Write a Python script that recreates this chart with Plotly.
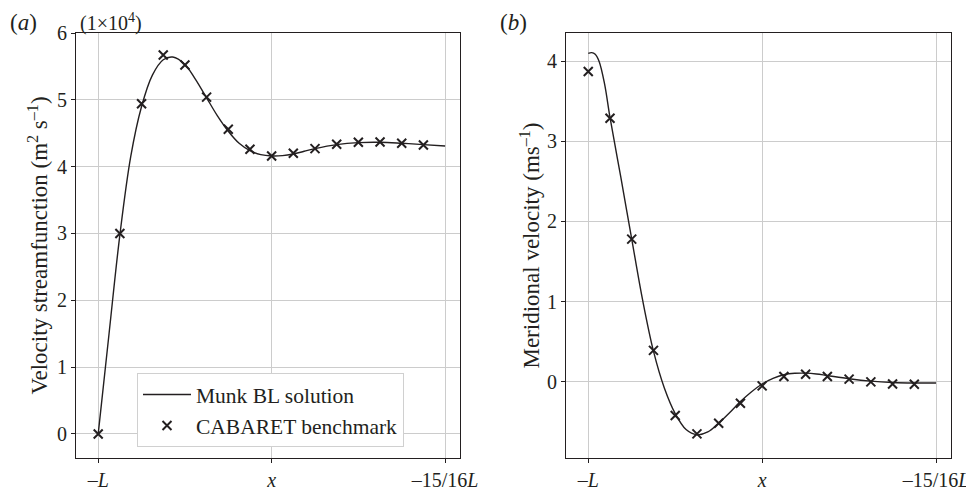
import plotly.graph_objects as go
from plotly.subplots import make_subplots

# positions along the section, 0 = -L, 1 = -15/16 L
bench_x = [0, 0.0625, 0.125, 0.1875, 0.25, 0.3125, 0.375, 0.4375,
           0.5, 0.5625, 0.625, 0.6875, 0.75, 0.8125, 0.875, 0.9375]

# (a) streamfunction, units of 1e4 m^2 s^-1
psi_line_x = [0, 0.03125, 0.0625, 0.09375, 0.125, 0.15625, 0.1875, 0.215,
              0.25, 0.28, 0.3125, 0.34375, 0.375, 0.40625, 0.4375, 0.46875,
              0.5, 0.53125, 0.5625, 0.59375, 0.625, 0.6875, 0.75, 0.8125,
              0.875, 0.9375, 1.0]
psi_line = [0, 1.5, 2.98, 4.15, 4.9, 5.37, 5.6, 5.64,
            5.53, 5.31, 5.03, 4.76, 4.53, 4.35, 4.24, 4.18,
            4.16, 4.165, 4.19, 4.23, 4.27, 4.33, 4.36, 4.365,
            4.35, 4.33, 4.31]
psi_bench = [0, 3.0, 4.94, 5.67, 5.52, 5.04, 4.56, 4.26,
             4.16, 4.20, 4.27, 4.335, 4.365, 4.37, 4.35, 4.325]

# (b) meridional velocity, m s^-1
v_line_x = [0, 0.01, 0.02, 0.03125, 0.046875, 0.0625, 0.09375, 0.125,
            0.15625, 0.1875, 0.21875, 0.25, 0.28125, 0.3125, 0.34375, 0.375,
            0.40625, 0.4375, 0.46875, 0.5, 0.53125, 0.5625, 0.59375, 0.625,
            0.65625, 0.6875, 0.75, 0.8125, 0.875, 0.9375, 1.0]
v_line = [4.10, 4.11, 4.09, 4.0, 3.72, 3.3, 2.55, 1.78,
          1.02, 0.38, -0.08, -0.4, -0.6, -0.665, -0.63, -0.52,
          -0.39, -0.25, -0.13, -0.03, 0.04, 0.085, 0.103, 0.105,
          0.095, 0.075, 0.035, 0.005, -0.012, -0.018, -0.018]
v_bench = [3.875, 3.29, 1.78, 0.39, -0.425, -0.654, -0.52, -0.27,
           -0.054, 0.0625, 0.092, 0.0625, 0.03, -0.004, -0.03, -0.033]

tick_vals = [0, 0.5, 1]
tick_text = ["–<i>L</i>", "<i>x</i>", "–15/16<i>L</i>"]

FONT = "Liberation Serif"
INK = "#231f20"
GRID = "#cccccc"

# the page body adds an 8px margin, so the figure is drawn 8px smaller
W, H = 966, 485

fig = make_subplots(rows=1, cols=2)

fig.add_trace(go.Scatter(x=psi_line_x, y=psi_line, mode="lines", line_shape="spline",
                         line=dict(color=INK, width=1.4), name="Munk BL solution"), 1, 1)
fig.add_trace(go.Scatter(x=bench_x, y=psi_bench, mode="markers",
                         marker=dict(symbol="x-thin", size=9, line=dict(color=INK, width=2)),
                         name="CABARET benchmark"), 1, 1)
fig.add_trace(go.Scatter(x=v_line_x, y=v_line, mode="lines", line_shape="spline",
                         line=dict(color=INK, width=1.4), showlegend=False), 1, 2)
fig.add_trace(go.Scatter(x=bench_x, y=v_bench, mode="markers",
                         marker=dict(symbol="x-thin", size=9, line=dict(color=INK, width=2)),
                         showlegend=False), 1, 2)

axis_common = dict(showline=True, linecolor=INK, linewidth=1, mirror=True,
                   showgrid=True, gridcolor=GRID, gridwidth=1, zeroline=False,
                   ticks="outside", ticklen=4, tickcolor=INK, automargin=False,
                   tickfont=dict(family=FONT, size=20, color=INK))

fig.update_xaxes(axis_common, tickvals=tick_vals, ticktext=tick_text, range=[-0.064, 1.043])
fig.update_xaxes(domain=[68 / W, 452 / W], row=1, col=1)
fig.update_xaxes(domain=[558 / W, 943 / W], row=1, col=2)
fig.update_yaxes(axis_common, domain=[1 - 450 / H, 1 - 25 / H])
fig.update_yaxes(range=[-0.36, 6.0], dtick=1, row=1, col=1,
                 title=dict(text="Velocity streamfunction (m<sup>2</sup> s<sup>–1</sup>)",
                            font=dict(family=FONT, size=23, color=INK), standoff=2))
fig.update_yaxes(range=[-0.955, 4.355], dtick=1, row=1, col=2,
                 title=dict(text="Meridional velocity (ms<sup>–1</sup>)",
                            font=dict(family=FONT, size=23, color=INK), standoff=0))

fig.add_annotation(text="(<i>a</i>)", x=0.0, y=1.0, xref="paper", yref="paper",
                   xanchor="left", yanchor="top", showarrow=False,
                   font=dict(family=FONT, size=23, color=INK))
fig.add_annotation(text="(1×10<sup>4</sup>)", x=70 / W, y=1.0, xref="paper", yref="paper",
                   xanchor="left", yanchor="top", showarrow=False,
                   font=dict(family=FONT, size=20, color=INK))
fig.add_annotation(text="(<i>b</i>)", x=490 / W, y=1.0, xref="paper", yref="paper",
                   xanchor="left", yanchor="top", showarrow=False,
                   font=dict(family=FONT, size=23, color=INK))

fig.update_layout(
    width=W, height=H,
    margin=dict(l=0, r=0, t=0, b=0),
    paper_bgcolor="white", plot_bgcolor="white",
    font=dict(family=FONT, color=INK),
    legend=dict(x=129 / W, y=46 / H, xanchor="left", yanchor="bottom",
                bgcolor="white", bordercolor="#d0d0d0", borderwidth=1,
                font=dict(family=FONT, size=21.5, color=INK),
                itemwidth=48, tracegroupgap=0),
)

fig.write_html("out.html")
